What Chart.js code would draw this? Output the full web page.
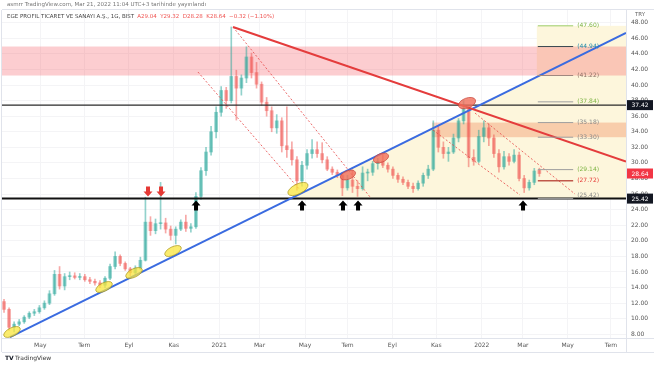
<!DOCTYPE html>
<html>
<head>
<meta charset="utf-8">
<script src="https://cdn.jsdelivr.net/npm/chart.js@4.4.0/dist/chart.umd.min.js"></script>
<style>
  html, body { margin: 0; padding: 0; background: #fff; }
  #wrap { width: 654px; height: 366px; position: relative; }
</style>
</head>
<body>
<div id="wrap"><canvas id="chart" width="654" height="366"></canvas></div>
<script>
// weekly candles, first week starts Mon 2020-03-09
const startDate = '2020-03-09';
const opens = [12.2, 11.2, 8.9, 9.3, 9.6, 10.2, 10.7, 10.9, 11.4, 12.0,
  13.2, 15.7, 14.2, 15.4, 15.5, 15.3, 15.4, 15.0, 14.8, 14.6,
  14.3, 15.2, 16.7, 18.0, 17.1, 16.4, 15.9, 16.5, 17.5, 22.4,
  21.3, 22.2, 22.3, 21.5, 20.7, 21.5, 22.4, 21.6, 21.8, 25.7,
  29.0, 31.4, 34.0, 36.5, 39.3, 38.0, 41.1, 39.6, 40.9, 43.6,
  41.6, 40.1, 37.8, 36.7, 34.5, 35.4, 32.2, 31.7, 30.4, 27.7,
  29.7, 31.2, 31.7, 31.2, 30.4, 29.2, 28.8, 28.4, 26.8, 27.8,
  27.0, 26.7, 28.7, 28.8, 29.9, 30.2, 29.7, 29.2, 28.4, 27.9,
  27.5, 27.0, 26.7, 27.4, 28.4, 29.2, 34.2, 32.0, 31.2, 31.4,
  33.2, 35.4, 37.0, 30.7, 30.2, 33.4, 34.5, 33.2, 31.2, 29.5,
  30.8, 30.2, 31.0, 28.0, 26.8, 27.5, 29.04];
const highs = [12.5, 11.4, 9.6, 9.9, 10.4, 10.9, 11.2, 11.7, 12.3, 13.6,
  16.2, 16.7, 15.8, 16.0, 15.9, 15.8, 15.7, 15.3, 15.1, 14.9,
  15.4, 17.0, 18.6, 18.2, 17.3, 16.6, 16.8, 17.9, 25.6, 23.1,
  22.8, 27.5, 22.9, 21.9, 21.8, 22.7, 23.3, 22.2, 26.2, 29.4,
  32.0, 34.7, 37.2, 39.8, 39.7, 47.45, 41.9, 41.3, 44.9, 44.1,
  42.9, 40.4, 38.4, 37.2, 36.2, 35.8, 37.2, 32.7, 30.8, 30.2,
  31.7, 33.0, 32.7, 32.6, 30.8, 29.5, 29.1, 28.8, 28.4, 29.1,
  27.7, 29.5, 29.2, 30.2, 30.6, 31.1, 30.0, 29.5, 28.7, 28.2,
  27.8, 27.4, 27.7, 28.7, 29.7, 35.4, 34.7, 32.7, 32.0, 33.7,
  35.7, 38.0, 37.2, 31.7, 34.2, 35.4, 35.0, 33.6, 31.7, 31.5,
  31.2, 31.7, 31.4, 28.4, 27.8, 29.3, 29.32];
const lows = [10.8, 8.5, 8.3, 9.1, 9.4, 10.0, 10.4, 10.7, 11.2, 11.8,
  13.0, 13.8, 13.7, 15.0, 15.1, 15.0, 14.8, 14.5, 14.3, 14.0,
  14.0, 15.0, 16.4, 16.8, 16.2, 15.5, 15.7, 16.3, 17.4, 20.7,
  20.9, 21.5, 21.0, 20.1, 19.6, 21.3, 21.2, 21.1, 21.6, 25.3,
  28.4, 31.0, 33.2, 36.0, 37.0, 37.7, 35.5, 38.7, 40.3, 40.9,
  39.6, 37.4, 36.0, 34.0, 33.8, 31.4, 30.7, 29.7, 26.5, 27.0,
  29.2, 30.6, 30.7, 30.0, 29.0, 28.5, 28.1, 25.8, 26.5, 26.2,
  25.7, 26.5, 27.7, 28.4, 29.2, 29.4, 28.8, 28.0, 27.5, 27.2,
  26.7, 26.2, 26.5, 27.0, 28.0, 29.0, 31.4, 30.6, 30.2, 31.2,
  32.7, 35.0, 29.5, 29.7, 30.0, 32.7, 32.2, 30.7, 28.8, 29.2,
  29.7, 30.0, 27.7, 26.2, 26.5, 27.2, 28.28];
const closes = [11.2, 8.9, 9.3, 9.6, 10.2, 10.7, 10.9, 11.4, 12.0, 13.2,
  15.7, 14.2, 15.4, 15.5, 15.3, 15.4, 15.0, 14.8, 14.6, 14.3,
  15.2, 16.7, 18.0, 17.1, 16.4, 15.9, 16.5, 17.5, 22.4, 21.3,
  22.2, 22.3, 21.5, 20.7, 21.5, 22.4, 21.6, 21.8, 25.7, 29.0,
  31.4, 34.0, 36.5, 39.3, 38.0, 41.1, 39.6, 40.9, 43.6, 41.6,
  40.1, 37.8, 36.7, 34.5, 35.4, 32.2, 31.7, 30.4, 27.7, 29.7,
  31.2, 31.7, 31.2, 30.4, 29.2, 28.8, 28.4, 26.8, 27.8, 27.0,
  26.7, 28.7, 28.8, 29.9, 30.2, 29.7, 29.2, 28.4, 27.9, 27.5,
  27.0, 26.7, 27.4, 28.4, 29.2, 34.2, 32.0, 31.2, 31.4, 33.2,
  35.4, 37.0, 30.7, 30.2, 33.4, 34.5, 33.2, 31.2, 29.5, 30.8,
  30.2, 31.0, 28.0, 26.8, 27.5, 28.96, 28.64];

const tickDates = ['2020-05-01', '2020-07-01', '2020-09-01', '2020-11-02', '2021-01-04', '2021-03-01',
  '2021-05-03', '2021-07-01', '2021-09-01', '2021-11-01', '2022-01-03', '2022-03-01', '2022-05-02', '2022-07-01'];
const tickLabels = ['May', 'Tem', 'Eyl', 'Kas', '2021', 'Mar', 'May', 'Tem', 'Eyl', 'Kas', '2022', 'Mar', 'May', 'Tem'];
const priceTicks = [8, 10, 12, 14, 16, 18, 20, 22, 24, 26, 28, 30, 32, 34, 36, 38, 40, 42, 44, 46, 48];

// drawings, in [week, price]
const blueLine = [[1.58, 7.65], [123.56, 46.68]];
const redLine = [[45.74, 47.45], [123.56, 30.17]];
const channels = [
  [[38.8, 41.67], [59.0, 26.53]],
  [[45.74, 47.45], [72.87, 25.63]],
  [[85.35, 34.21], [102.57, 25.88]],
  [[93.66, 36.4], [113.47, 26.0]]
];
const resistance = 37.42;
const support = 25.42;
const pinkZone = [41.22, 44.94];
const orangeZone = [33.30, 35.18];
const orangeStart = 85.15;
const fibStart = 105.9, fibEnd = 113.1;
const fibLevels = [47.60, 44.94, 41.22, 37.84, 35.18, 33.30, 29.14, 27.72, 25.42];
const yellowMarks = [[1.98, 8.3], [20.2, 14.07], [26.14, 15.87], [33.86, 18.69], [58.6, 26.65]];
const redMarks = [[68.5, 28.45], [75.05, 30.63], [92.08, 37.68]];
const upArrows = [38.42, 59.41, 67.52, 70.5, 103.17];
const downArrows = [28.91, 31.49];

const xMax = 123.56;
const week = d => (Date.parse(d) - Date.parse(startDate)) / 6048e5;

const upCol = 'rgba(38,166,154,0.5)', downCol = 'rgba(239,83,80,0.5)';
const candleCols = closes.map((c, i) => c >= opens[i] ? upCol : downCol);

const overlay = {
  id: 'overlay',
  beforeDatasetsDraw(chart) {
    const { ctx, chartArea: a, scales: { x, y } } = chart;
    const X = v => x.getPixelForValue(v), Y = v => y.getPixelForValue(v);
    const k = (blueLine[1][1] - blueLine[0][1]) / (blueLine[1][0] - blueLine[0][0]);
    const blueAt = w => blueLine[0][1] + (w - blueLine[0][0]) * k;
    const wCross = blueLine[0][0] + (support - blueLine[0][1]) / k;
    ctx.save();
    ctx.beginPath(); ctx.rect(a.left, a.top, a.width, a.height); ctx.clip();
    ctx.fillStyle = '#fdf6dc';
    ctx.beginPath();
    ctx.moveTo(X(wCross), Y(support));
    ctx.lineTo(X(xMax), Y(blueAt(xMax)));
    ctx.lineTo(X(xMax), Y(support));
    ctx.closePath(); ctx.fill();
    ctx.fillRect(X(fibStart), Y(fibLevels[0]), X(xMax) - X(fibStart), Y(support) - Y(fibLevels[0]));
    ctx.fillStyle = 'rgba(242,54,69,0.25)';
    ctx.fillRect(a.left, Y(pinkZone[1]), a.width, Y(pinkZone[0]) - Y(pinkZone[1]));
    ctx.fillStyle = 'rgba(240,110,60,0.3)';
    ctx.fillRect(X(orangeStart), Y(orangeZone[1]), X(xMax) - X(orangeStart), Y(orangeZone[0]) - Y(orangeZone[1]));
    ctx.restore();
  },
  afterDatasetsDraw(chart) {
    const { ctx, chartArea: a, scales: { x, y } } = chart;
    const X = v => x.getPixelForValue(v), Y = v => y.getPixelForValue(v);
    const seg = (p, q, col, w, dash) => {
      ctx.beginPath();
      ctx.setLineDash(dash || []);
      ctx.strokeStyle = col; ctx.lineWidth = w;
      ctx.moveTo(X(p[0]), Y(p[1])); ctx.lineTo(X(q[0]), Y(q[1]));
      ctx.stroke();
    };
    ctx.save();
    ctx.beginPath(); ctx.rect(a.left, a.top, a.width, a.height); ctx.clip();

    // dashed channels
    channels.forEach(c => seg(c[0], c[1], 'rgba(230,70,70,0.8)', 1, [2, 2]));
    ctx.setLineDash([]);

    // horizontal levels
    seg([0, resistance], [xMax, resistance], '#2a2a2a', 1.3);
    seg([0, support], [xMax, support], '#111', 2);

    // trendlines
    seg(blueLine[0], blueLine[1], '#3a6be0', 2);
    seg(redLine[0], redLine[1], '#e43c3c', 2);

    // fib levels
    const fibLine = ['#9ccc65', '#37474f', '#a1887f', '#9e9e9e', '#9e9e9e', '#9e9e9e', '#9e9e9e', '#c0584a', '#9e9e9e'];
    const fibText = ['#7cb342', '#1e88a8', '#8d6e63', '#7cb342', '#888', '#888', '#7cb342', '#e53935', '#888'];
    ctx.font = '6px "DejaVu Sans", sans-serif';
    ctx.textBaseline = 'middle';
    fibLevels.forEach((v, i) => {
      seg([fibStart + 0.2, v], [fibEnd, v], fibLine[i], i === 7 ? 1.5 : 1);
      ctx.fillStyle = fibText[i];
      ctx.fillText('(' + v.toFixed(2) + ')', X(fibEnd) + 4, Y(v) - (i === 8 ? 3 : 0));
    });

    // ellipses
    const ell = (m, fill, stroke, rx, ry, rot) => {
      ctx.beginPath();
      ctx.ellipse(X(m[0]), Y(m[1]), rx, ry, rot, 0, Math.PI * 2);
      ctx.fillStyle = fill; ctx.fill();
      ctx.strokeStyle = stroke; ctx.lineWidth = 0.8; ctx.stroke();
    };
    const tilt = -Math.atan2(Y(blueLine[0][1]) - Y(blueLine[1][1]), X(blueLine[1][0]) - X(blueLine[0][0]));
    yellowMarks.forEach((m, i) => ell(m, 'rgba(250,230,60,0.75)', 'rgba(170,150,30,0.9)', i === 4 ? 11 : 9, i === 4 ? 5 : 4.2, tilt));
    redMarks.forEach((m, i) => ell(m, 'rgba(240,110,90,0.8)', 'rgba(200,70,60,0.9)', i === 2 ? 9 : 8, i === 2 ? 5 : 4.3, tilt * 0.8));

    // arrows
    const arrow = (w, tipY, dir, col) => {
      const cx = X(w);
      ctx.beginPath();
      ctx.moveTo(cx, tipY);
      ctx.lineTo(cx - 4.5, tipY + 5 * dir);
      ctx.lineTo(cx - 2, tipY + 5 * dir);
      ctx.lineTo(cx - 2, tipY + 10 * dir);
      ctx.lineTo(cx + 2, tipY + 10 * dir);
      ctx.lineTo(cx + 2, tipY + 5 * dir);
      ctx.lineTo(cx + 4.5, tipY + 5 * dir);
      ctx.closePath();
      ctx.fillStyle = col; ctx.fill();
    };
    upArrows.forEach(w => arrow(w, Y(support) + 2, 1, '#000'));
    downArrows.forEach(w => arrow(w, Y(support) - 2, -1, '#e53935'));
    ctx.restore();
  },
  afterDraw(chart) {
    const { ctx, chartArea: a, scales: { y } } = chart;
    ctx.save();
    // frame
    ctx.strokeStyle = '#e0e3eb'; ctx.lineWidth = 1;
    ctx.beginPath();
    ctx.moveTo(a.right + 0.5, a.top); ctx.lineTo(a.right + 0.5, 352);
    ctx.moveTo(a.left, a.bottom + 0.5); ctx.lineTo(654, a.bottom + 0.5);
    ctx.moveTo(a.left, 352.5); ctx.lineTo(654, 352.5);
    ctx.moveTo(a.left - 0.5, a.top); ctx.lineTo(a.left - 0.5, 352);
    ctx.moveTo(a.left, a.top - 0.5); ctx.lineTo(654, a.top - 0.5);
    ctx.stroke();

    // price boxes on axis
    const box = (v, bg) => {
      const py = y.getPixelForValue(v);
      ctx.fillStyle = bg;
      ctx.fillRect(a.right + 1, py - 5, 26, 10);
      ctx.fillStyle = '#fff';
      ctx.font = '6px "DejaVu Sans", sans-serif';
      ctx.textAlign = 'center'; ctx.textBaseline = 'middle';
      ctx.fillText(v.toFixed(2), a.right + 14, py + 0.5);
    };
    box(resistance, '#131722');
    box(support, '#131722');
    box(closes[closes.length - 1], '#f23645');

    // titles
    ctx.textAlign = 'left'; ctx.textBaseline = 'middle';
    ctx.font = '5.5px "DejaVu Sans", sans-serif';
    ctx.fillStyle = '#777';
    ctx.fillText('asmrr TradingView.com, Mar 21, 2022 11:04 UTC+3 tarihinde yayınlandı', 7, 5);
    ctx.fillStyle = '#444';
    const name = 'EGE PROFIL TICARET VE SANAYI A.Ş., 1G, BIST';
    ctx.fillText(name, 7, 17);
    ctx.fillStyle = '#ef5350';
    ctx.fillText('A29.04  Y29.32  D28.28  K28.64  −0.32 (−1.10%)', 10 + ctx.measureText(name).width, 17);
    ctx.fillStyle = '#666';
    ctx.textAlign = 'center';
    ctx.fillText('TRY', a.right + 14, 15);

    // logo
    ctx.textAlign = 'left';
    ctx.fillStyle = '#131722';
    ctx.font = 'bold 6px "DejaVu Sans", sans-serif';
    ctx.fillText('TV', 5, 358);
    ctx.font = '6px "DejaVu Sans", sans-serif';
    ctx.fillStyle = '#333';
    ctx.fillText('TradingView', 15, 358);
    ctx.restore();
  }
};

const candleX = opens.map((_, i) => i + 0.4);

new Chart(document.getElementById('chart'), {
  type: 'bar',
  data: {
    datasets: [
      {
        label: 'body',
        data: candleX.map((w, i) => ({ x: w, y: [opens[i], closes[i]] })),
        backgroundColor: candleCols,
        barThickness: 3,
        minBarLength: 1,
        grouped: false
      },
      {
        label: 'wick',
        data: candleX.map((w, i) => ({ x: w, y: [lows[i], highs[i]] })),
        backgroundColor: candleCols,
        barThickness: 1,
        grouped: false
      }
    ]
  },
  options: {
    responsive: false,
    animation: false,
    layout: { padding: { left: 2, top: 10, right: 0, bottom: 0 } },
    plugins: { legend: { display: false }, tooltip: { enabled: false } },
    scales: {
      x: {
        type: 'linear',
        min: 0,
        max: xMax,
        bounds: 'data',
        offset: false,
        afterBuildTicks: s => { s.ticks = tickDates.map(d => ({ value: week(d) })); },
        afterFit: s => { s.height = 28; },
        ticks: {
          autoSkip: false,
          maxRotation: 0,
          padding: 4,
          color: '#555',
          font: { size: 6, family: '"DejaVu Sans", sans-serif' },
          callback: (v, i) => tickLabels[i]
        },
        grid: { color: '#f4f4f6', drawTicks: false, offset: false },
        border: { display: false }
      },
      y: {
        type: 'linear',
        position: 'right',
        min: 7.525,
        max: 49.63,
        bounds: 'data',
        afterBuildTicks: s => { s.ticks = priceTicks.map(v => ({ value: v })); },
        afterFit: s => { s.width = 28; },
        ticks: {
          autoSkip: false,
          padding: 5,
          color: '#555',
          font: { size: 6, family: '"DejaVu Sans", sans-serif' },
          callback: v => v.toFixed(2)
        },
        grid: { color: '#f4f4f6', drawTicks: false },
        border: { display: false }
      }
    }
  },
  plugins: [overlay]
});
</script>
</body>
</html>
